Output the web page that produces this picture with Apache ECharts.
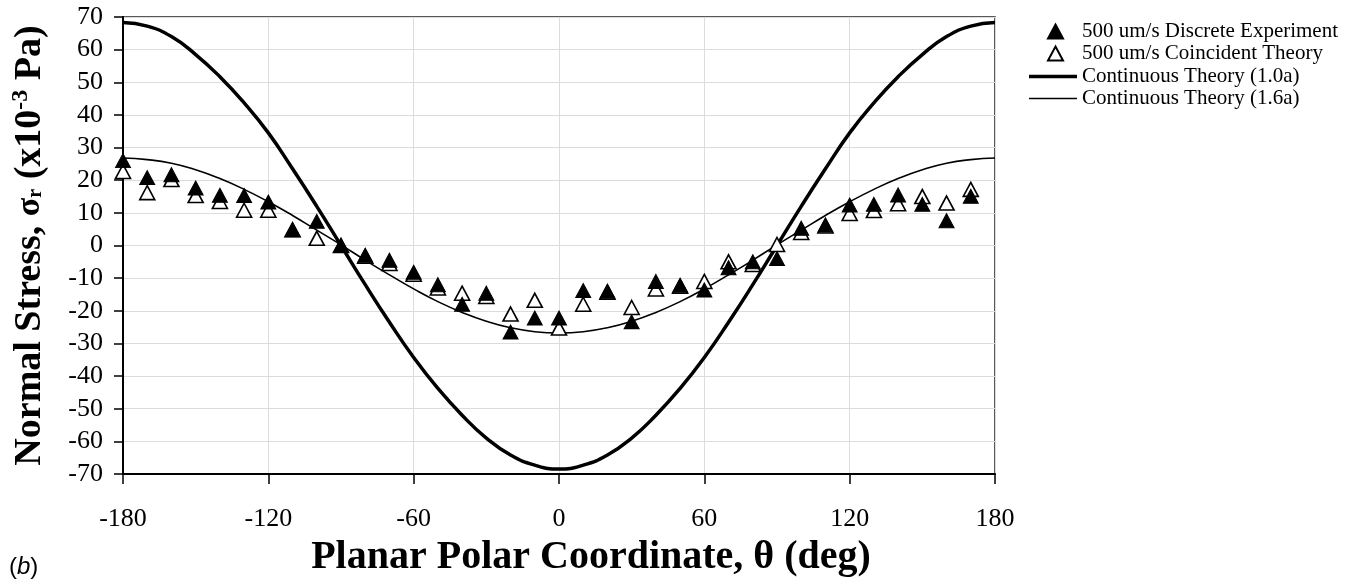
<!DOCTYPE html>
<html>
<head>
<meta charset="utf-8">
<script src="https://cdn.jsdelivr.net/npm/echarts@6/dist/echarts.min.js"></script>
<style>
html,body{margin:0;padding:0;background:#fff;}
#c{width:1360px;height:586px;}
</style>
</head>
<body>
<div id="c"></div>
<script>
// Scatter angles (deg)
var thetaPts = [-180,-170,-160,-150,-140,-130,-120,-110,-100,-90,-80,-70,-60,-50,-40,-30,-20,-10,0,10,20,30,40,50,60,70,80,90,100,110,120,130,140,150,160,170];
// 500 um/s Discrete Experiment (filled triangles)
var discrete = [26,20.8,21.7,17.6,15.4,15.3,13.3,4.8,7.4,0,-3,-4.5,-8.2,-12,-18,-14.6,-26.5,-22.2,-22.2,-13.8,-14,-23.4,-11,-12.2,-13.6,-6.8,-5,-4,5.3,6.3,12.4,12.6,15.5,12.6,7.6,15.1];
// 500 um/s Coincident Theory (open triangles)
var coincident = [22.7,16.2,20.2,15.3,13.5,10.8,10.8,4.8,2.2,0,-3.3,-5.5,-8.8,-13,-14.6,-15.6,-21,-16.8,-25.3,-18,-14.3,-19,-13.3,-12.5,-11,-5,-5.8,0.3,4,6,9.8,10.7,12.8,15,13,17.2];
// Continuous curves
var thetaCurve = [-180,-170,-160,-150,-140,-130,-120,-110,-100,-90,-80,-70,-60,-50,-40,-30,-20,-10,0,10,20,30,40,50,60,70,80,90,100,110,120,130,140,150,160,170,180];
var cont10 = [68.3,67.2,64,58.5,51.7,43.7,34.5,23.5,12,0,-12,-23.5,-34.3,-43.8,-52,-59,-64.2,-67.3,-68.5,-67.3,-64.2,-59,-52,-43.8,-34.3,-23.5,-12,0,12,23.5,34.5,43.7,51.7,58.5,64,67.2,68.3];
var cont16 = [26.8,26.3,25.2,23.2,20.5,17.2,13.4,9.2,4.7,0.2,-4.5,-9,-13.3,-17.2,-20.5,-23.2,-25.2,-26.4,-26.8,-26.4,-25.2,-23.2,-20.5,-17.2,-13.3,-9,-4.5,0.2,4.7,9.2,13.4,17.2,20.5,23.2,25.2,26.3,26.8];
var names = ['500 um/s Discrete Experiment','500 um/s Coincident Theory','Continuous Theory (1.0a)','Continuous Theory (1.6a)'];

function pairs(xs, ys){ return xs.map(function(x,i){ return [x, ys[i]]; }); }

var serif = 'Liberation Serif';
var legText = {fontFamily:serif,fontSize:21,color:'#000'};
var chart = echarts.init(document.getElementById('c'), null, {renderer:'canvas'});
chart.setOption({
  animation:false,
  backgroundColor:'#fff',
  title:{
    text:'{n|(}{i|b}{n|)}', left:4, top:550,
    textStyle:{fontWeight:'normal',rich:{
      n:{fontFamily:'Liberation Sans',fontSize:24,fontWeight:'normal',color:'#000'},
      i:{fontFamily:'Liberation Sans',fontSize:24,fontWeight:'normal',fontStyle:'italic',color:'#000'}
    }}
  },
  grid:{left:123,right:365,top:17,bottom:112,containLabel:false,outerBoundsMode:'none',
        show:true,borderColor:'#222',borderWidth:1.5,backgroundColor:'transparent'},
  legend:[
    {data:[{name:names[0],icon:'triangle'},{name:names[1],icon:'triangle'}],orient:'vertical',left:1042,top:16,
     itemWidth:15,itemHeight:14,itemGap:1,
     textStyle:Object.assign({padding:[0,0,0,14]},legText)},
    {data:[{name:names[2],icon:'rect'}],orient:'vertical',left:1024,top:61,itemWidth:48,itemHeight:3.5,
     textStyle:legText},
    {data:[{name:names[3],icon:'rect'}],orient:'vertical',left:1024,top:83,itemWidth:48,itemHeight:1.6,
     textStyle:legText}
  ],
  xAxis:{
    type:'value',min:-180,max:180,interval:60,
    name:'Planar Polar Coordinate, θ (deg)',nameLocation:'middle',nameGap:64,
    nameTextStyle:{fontFamily:serif,fontSize:40,fontWeight:'bold',color:'#000',padding:[0,0,0,64]},
    axisLine:{show:true,onZero:false,lineStyle:{color:'#000',width:2}},
    axisTick:{show:true,length:10,lineStyle:{color:'#000',width:1.5}},
    axisLabel:{fontFamily:serif,fontSize:26,color:'#000',margin:32},
    splitLine:{show:true,lineStyle:{color:'#dcdcdc',width:1}}
  },
  yAxis:{
    type:'value',min:-70,max:70,interval:10,
    name:'{b|Normal Stress, }{s|σ}{sub|r}{b| (x10}{sup|-3}{b| Pa)}',
    nameLocation:'middle',nameGap:72,nameRotate:90,
    nameTextStyle:{fontFamily:serif,fontSize:38,fontWeight:'bold',color:'#000',
      rich:{
        b:{fontFamily:serif,fontSize:38,fontWeight:'bold',color:'#000'},
        s:{fontFamily:serif,fontSize:34,color:'#000'},
        sub:{fontFamily:serif,fontSize:20,color:'#000',padding:[12,0,0,0]},
        sup:{fontFamily:serif,fontSize:24,fontWeight:'bold',color:'#000',padding:[0,0,18,0]}
      }},
    axisLine:{show:true,onZero:false,lineStyle:{color:'#000',width:2}},
    axisTick:{show:true,length:9,lineStyle:{color:'#000',width:1.5}},
    axisLabel:{fontFamily:serif,fontSize:26,color:'#000',margin:20},
    splitLine:{show:true,lineStyle:{color:'#dcdcdc',width:1}}
  },
  series:[
    {name:names[2],type:'line',data:pairs(thetaCurve,cont10),symbol:'none',smooth:true,
     lineStyle:{color:'#000',width:3.5},itemStyle:{color:'#000'},z:2},
    {name:names[3],type:'line',data:pairs(thetaCurve,cont16),symbol:'none',smooth:true,
     lineStyle:{color:'#000',width:1.6},itemStyle:{color:'#000'},z:2},
    {name:names[1],type:'scatter',data:pairs(thetaPts,coincident),symbol:'triangle',symbolSize:[15,14],
     itemStyle:{color:'#fff',borderColor:'#000',borderWidth:1.6,opacity:1},z:3},
    {name:names[0],type:'scatter',data:pairs(thetaPts,discrete),symbol:'triangle',symbolSize:[15,14],
     itemStyle:{color:'#000',borderColor:'#000',borderWidth:1,opacity:1},z:4}
  ]
});
</script>
</body>
</html>
